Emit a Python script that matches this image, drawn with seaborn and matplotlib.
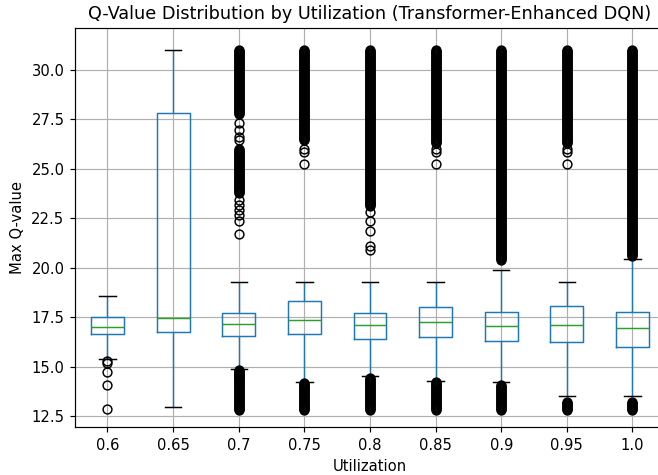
import numpy as np
import pandas as pd
import seaborn as sns
import matplotlib
matplotlib.use("Agg")
import matplotlib.pyplot as plt

# Box statistics
utilization = ["0.6", "0.65", "0.7", "0.75", "0.8", "0.85", "0.9", "0.95", "1.0"]
whisker_low = [15.41, 12.97, 14.90, 14.23, 14.50, 14.25, 14.23, 13.52, 13.52]
q1 = [16.64, 16.73, 16.57, 16.66, 16.39, 16.50, 16.29, 16.22, 16.00]
median = [17.01, 17.45, 17.16, 17.38, 17.11, 17.26, 17.06, 17.11, 16.94]
q3 = [17.50, 27.85, 17.70, 18.33, 17.70, 18.02, 17.76, 18.06, 17.78]
whisker_high = [18.56, 31.00, 19.27, 19.27, 19.27, 19.27, 19.88, 19.27, 20.43]

# Individual outliers that can be told apart
flier_points = [
    [15.29, 15.19, 14.71, 14.07, 12.84],
    [],
    [27.34, 26.97, 26.63, 26.47, 23.44, 23.19, 22.94, 22.69, 22.38, 21.70],
    [26.00, 25.85, 25.23],
    [22.80, 22.35, 21.85, 21.10, 20.90],
    [26.00, 25.85, 25.23],
    [],
    [26.00, 25.85, 25.23],
    [],
]

# Ranges where the outliers are packed into a solid column (low, high)
flier_bands = [
    [],
    [],
    [(12.80, 14.85), (23.80, 26.00), (27.80, 31.00)],
    [(12.80, 14.15), (26.45, 31.00)],
    [(12.80, 14.40), (23.10, 31.00)],
    [(12.80, 14.20), (26.30, 31.00)],
    [(12.80, 14.05), (20.40, 31.00)],
    [(12.80, 13.20), (26.30, 31.00)],
    [(12.80, 13.20), (20.60, 31.00)],
]

BAND_STEP = 0.05   # spacing of markers inside a packed column
CORE_REPEAT = 1000  # weight of the box values so quartiles land on them

rows = []
for i, u in enumerate(utilization):
    vals = [whisker_low[i], whisker_high[i]]
    vals += [q1[i]] * CORE_REPEAT + [median[i]] * CORE_REPEAT + [q3[i]] * CORE_REPEAT
    vals += flier_points[i]
    for lo, hi in flier_bands[i]:
        vals += list(np.arange(lo, hi + BAND_STEP / 2, BAND_STEP))
    rows += [(u, v) for v in vals]

df = pd.DataFrame(rows, columns=["Utilization", "Max Q-value"])

DPI = 106
fig, ax = plt.subplots(figsize=(658 / DPI, 475 / DPI), dpi=DPI)
# the original crop cuts the right edge of the axes slightly
ax.set_position([0.1135, 0.1004, 1.0111 - 0.1135, 0.9404 - 0.1004])

sns.boxplot(
    data=df, x="Utilization", y="Max Q-value", order=utilization,
    fill=False, color="#1f77b4", width=0.5, linewidth=1.0, ax=ax,
    medianprops=dict(color="#2ca02c", linewidth=1.0),
    whiskerprops=dict(color="#1f77b4", linewidth=1.0),
    capprops=dict(color="black", linewidth=1.0),
    flierprops=dict(marker="o", markeredgecolor="black", markerfacecolor="none",
                    markersize=6, markeredgewidth=1.0),
)

ax.grid(True)
ax.set_axisbelow(True)
ax.set_title("Q-Value Distribution by Utilization (Transformer-Enhanced DQN)")
ax.set_xlabel("Utilization")
ax.set_ylabel("Max Q-value")
ax.set_ylim(11.93, 32.11)

plt.savefig("out.png", dpi=DPI)
